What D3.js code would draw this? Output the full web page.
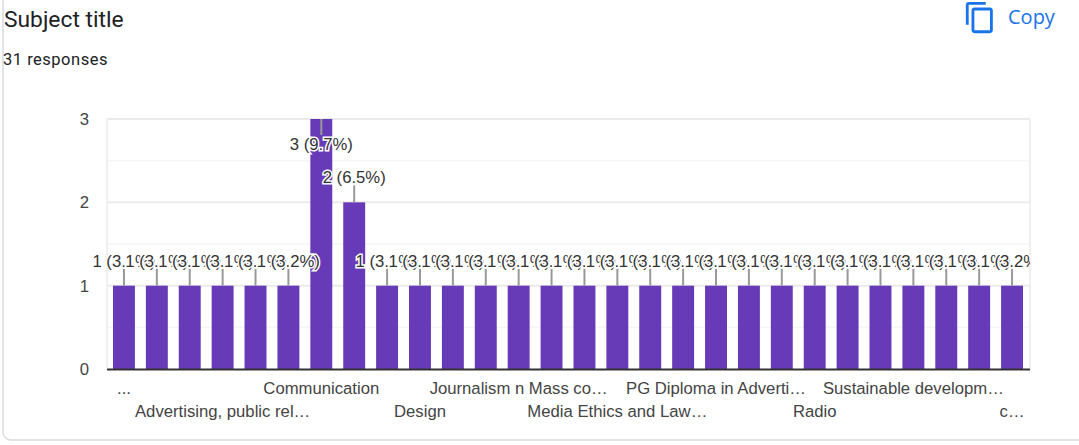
<!DOCTYPE html>
<html lang="en">
<head>
  <meta charset="UTF-8">
  <title>Subject title</title>
  <script src="https://d3js.org/d3.v7.min.js"></script>
  <style>
    html, body { margin: 0; padding: 0; background: #fff; overflow: hidden; }
    svg { display: block; }
    .title { font-family: Roboto, sans-serif; font-size: 22.8px; fill: #202124; }
    .sub { font-family: Roboto, sans-serif; font-size: 16.5px; fill: #202124; letter-spacing: .5px; }
    .copy { font-family: "Open Sans", sans-serif; font-size: 20px; fill: #1a73e8; }
    .tick text, .lab { font-family: "Liberation Sans", Arial, sans-serif; font-size: 16.7px; }
    .tick text { fill: #444; }
    .lab { fill: #333; text-anchor: middle; stroke: #fff; stroke-width: 3px; paint-order: stroke; }
  </style>
</head>
<body>
<svg width="1079" height="445"></svg>
<script>
  // one value per bar, left to right
  const counts = [1,1,1,1,1,1,3,2,1,1,1,1,1,1,1,1,1,1,1,1,1,1,1,1,1,1,1,1];
  const percents = ["3.1","3.1","3.1","3.1","3.1","3.2","9.7","6.5","3.1","3.1","3.1","3.1","3.1","3.1",
    "3.1","3.1","3.1","3.1","3.1","3.1","3.1","3.1","3.1","3.1","3.1","3.1","3.1","3.2"];
  // only every third category gets a label
  const tickLabels = ["...","Advertising, public rel…","Communication","Design","Journalism n Mass co…",
    "Media Ethics and Law…","PG Diploma in Adverti…","Radio","Sustainable developm…","c…"];
  const yTicks = [0,1,2,3];
  const yMinor = [0.5,1.5,2.5];

  const svg = d3.select("svg");
  const plotL = 107, plotR = 1030, plotT = 119, plotB = 369;

  const x = d3.scaleBand().domain(d3.range(counts.length)).range([plotL-0.5,plotR-0.5]).paddingInner(0.333).paddingOuter(0.197);
  const y = d3.scaleLinear().domain([0,3]).range([plotB,plotT]);

  // card outline
  svg.append("rect").attr("x",3).attr("y",-20).attr("width",1095).attr("height",460).attr("rx",8)
    .attr("fill","#fff").attr("stroke","#dadce0").attr("stroke-width",1.5);

  svg.append("text").attr("class","title").attr("x",4).attr("y",27).text("Subject title");
  svg.append("text").attr("class","sub").attr("x",3).attr("y",65).text("31 responses");

  // copy icon
  svg.append("path")
    .attr("transform","translate(963,0.5) scale(1.42)")
    .attr("fill","#1a73e8")
    .attr("d","M16 1H4c-1.1 0-2 .9-2 2v14h2V3h12V1zm3 4H8c-1.1 0-2 .9-2 2v14c0 1.1.9 2 2 2h11c1.1 0 2-.9 2-2V7c0-1.1-.9-2-2-2zm0 16H8V7h11v14z");
  svg.append("text").attr("class","copy").attr("x",1008).attr("y",24).text("Copy");

  // grid
  svg.append("g").selectAll("line").data(yMinor).join("line")
    .attr("x1",plotL).attr("x2",plotR).attr("y1",d=>y(d)).attr("y2",d=>y(d))
    .attr("stroke","#f5f5f5").attr("stroke-width",1.5);
  svg.append("g").selectAll("line").data(yTicks.slice(1)).join("line")
    .attr("x1",plotL).attr("x2",plotR).attr("y1",d=>y(d)).attr("y2",d=>y(d))
    .attr("stroke","#ebebeb").attr("stroke-width",2);
  svg.append("g").selectAll("line").data([plotL,plotR]).join("line")
    .attr("x1",d=>d).attr("x2",d=>d).attr("y1",plotT).attr("y2",plotB)
    .attr("stroke","#f0f0f0").attr("stroke-width",2);

  const yAxis = svg.append("g").attr("transform",`translate(${plotL},0)`)
    .call(d3.axisLeft(y).tickValues(yTicks).tickFormat(d3.format("d")).tickSize(0).tickPadding(18));
  yAxis.select(".domain").remove();

  svg.append("clipPath").attr("id","plot").append("rect")
    .attr("x",plotL-30).attr("y",plotT-1).attr("width",plotR-plotL+30).attr("height",plotB-plotT+60);

  const plot = svg.append("g").attr("clip-path","url(#plot)");

  plot.append("g").selectAll("rect").data(counts).join("rect")
    .attr("x",(d,i)=>x(i)).attr("width",x.bandwidth())
    .attr("y",d=>y(d)).attr("height",d=>plotB-y(d))
    .attr("fill","#673ab7");

  // baseline
  svg.append("line").attr("x1",plotL).attr("x2",plotR).attr("y1",plotB+0.5).attr("y2",plotB+0.5)
    .attr("stroke","#333").attr("stroke-width",2);

  // stems: the top bar's label sits below its value, the rest above
  const inside = d => d === 3;
  const stemEnd = d => inside(d) ? y(d)+16 : y(d)-17;
  plot.append("g").selectAll("line").data(counts).join("line")
    .attr("x1",(d,i)=>x(i)+x.bandwidth()/2).attr("x2",(d,i)=>x(i)+x.bandwidth()/2)
    .attr("y1",d=>y(d)).attr("y2",stemEnd)
    .attr("stroke","#999").attr("stroke-width",2);

  // drawn in order so each halo cuts into the previous label
  plot.append("g").selectAll("text").data(counts).join("text")
    .attr("class","lab")
    .attr("x",(d,i)=>x(i)+x.bandwidth()/2)
    .attr("y",d=>inside(d) ? stemEnd(d)+15 : stemEnd(d)-2)
    .text((d,i)=>`${d} (${percents[i]}%)`);

  // x axis, two staggered rows
  const xAxis = svg.append("g").attr("transform",`translate(0,${plotB})`)
    .call(d3.axisBottom(x)
      .tickValues(tickLabels.map((d,i)=>i*3))
      .tickFormat(d=>tickLabels[d/3])
      .tickSize(0));
  xAxis.select(".domain").remove();
  xAxis.selectAll("text").attr("dy",null).attr("y",(d,i)=>i%2 ? 48 : 25);
</script>
</body>
</html>
